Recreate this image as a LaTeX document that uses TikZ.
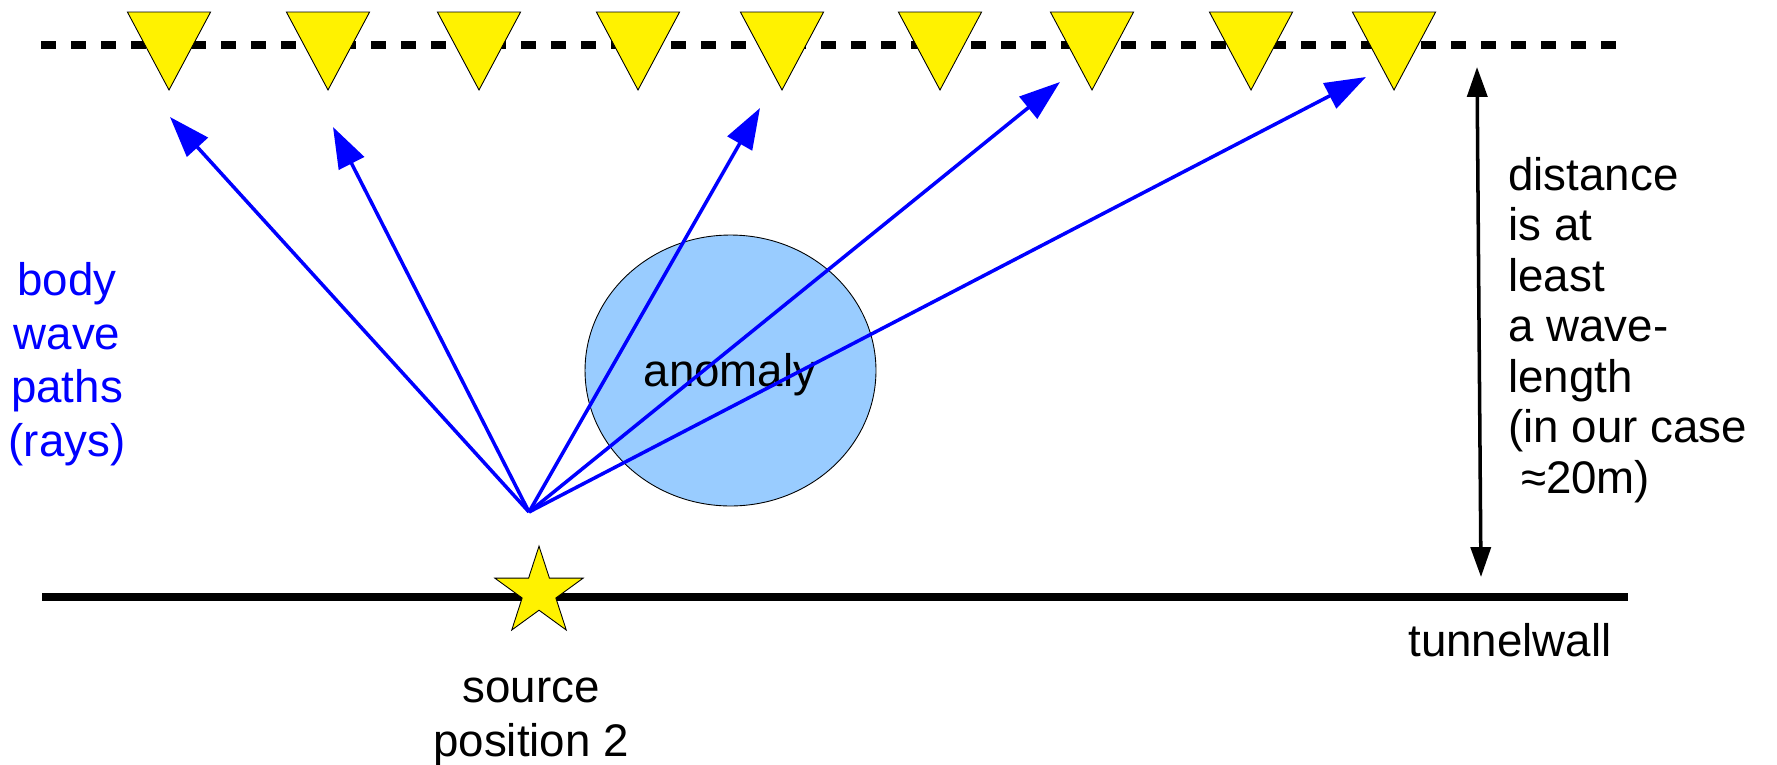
\documentclass[tikz,border=0pt]{standalone}
\usepackage{fontspec}
\setmainfont{Liberation Sans}
\usetikzlibrary{arrows.meta,shapes.geometric}
\definecolor{anomalyblue}{RGB}{153,204,255}

\begin{document}
\begin{tikzpicture}[x=0.02cm,y=-0.02cm,
        ray/.style={blue,line width=2pt,-{Triangle[length=23.3pt,width=15.9pt]}},
        receiver/.style={fill=yellow,draw=black,line width=0.5pt},
        label/.style={font=\fontsize{26}{30.5}\selectfont,inner sep=0pt}]
        \useasboundingbox (0,0) rectangle (1777,764);
        % surface line with receivers
        \draw[line width=4pt,dash pattern=on 8.54pt off 8.54pt] (41,45) -- (1628,45);
        \foreach \x in {169,328,479,638,782,940,1092,1251,1394} {
            \filldraw[receiver] (\x-41.6,12) -- (\x+41.6,12) -- (\x,90) -- cycle;
        }
        % tunnel wall and source
        \draw[line width=4pt] (42,597) -- (1628,597);
        \node[label,anchor=base] (wall) at (1510,656) {tunnelwall};
        \node[star,star points=5,star point ratio=2.618,minimum size=1.856cm,inner sep=0pt,
            fill=yellow,draw=black,line width=0.5pt] (star) at (539,592.5) {};
        \node[label,align=center] (source) at (531,722) {source\\position 2};
        % anomaly
        \node[ellipse,draw=black,fill=anomalyblue,line width=0.5pt,
            minimum width=5.82cm,minimum height=5.42cm] (anomaly) at (730.5,370.5) {};
        \node[label,anchor=base] (anomalytext) at (730,386) {anomaly};
        % rays
        \coordinate (src) at (529,512);
        \foreach \n/\x/\y in {1/170/117, 2/333/127, 3/760/108, 4/1060/82, 5/1366/77} {
            \coordinate (tip\n) at (\x,\y);
            \draw[ray] (src) -- (tip\n);
        }
        \node[label,blue,align=center] (rays) at (67,364) {body\\wave\\paths\\(rays)};
        % distance
        \coordinate (gaptop) at (1477,67);
        \coordinate (gapbottom) at (1481,577);
        \draw[line width=2pt,{Triangle[length=17pt,width=11.4pt]}-{Triangle[length=17pt,width=11.4pt]}] (gaptop) -- (gapbottom);
        \node[label,font=\fontsize{26}{28.7}\selectfont,align=left,anchor=west] (dist) at (1508,330)
            {distance\\is at\\least\\a wave-\\length\\(in our case\\\ ≈20m)};
    \end{tikzpicture}
\end{document}
